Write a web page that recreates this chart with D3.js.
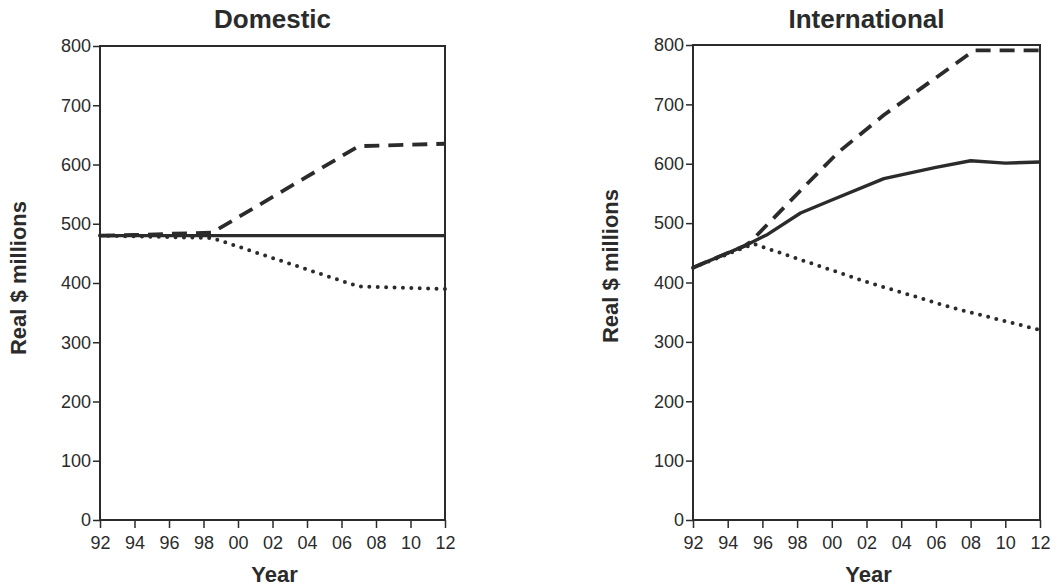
<!DOCTYPE html>
<html>
<head>
<meta charset="utf-8">
<script src="https://cdn.jsdelivr.net/npm/d3@7/dist/d3.min.js"></script>
<style>
  html, body { margin: 0; padding: 0; background: #fff; }
  svg { display: block; }
  text { font-family: "Liberation Sans", Arial, Helvetica, sans-serif; fill: #2b2b2b; }
</style>
</head>
<body>
<svg id="chart" width="1059" height="587"></svg>
<script>
// ---- data ----
const xTickYears = [1992, 1994, 1996, 1998, 2000, 2002, 2004, 2006, 2008, 2010, 2012];
const xTickLabels = ["92", "94", "96", "98", "00", "02", "04", "06", "08", "10", "12"];
const yTicks = [0, 100, 200, 300, 400, 500, 600, 700, 800];

const panelTitles = ["Domestic", "International"];
const yAxisLabel = "Real $ millions";
const xAxisLabel = "Year";

// Domestic
const domSolidYears = [1992, 2012];
const domSolidValues = [480, 480];
const domDashedYears = [1992, 1994, 1996, 1998.5, 2007, 2012];
const domDashedValues = [480, 481, 483, 485, 631, 635];
const domDottedYears = [1992, 1998.5, 2007, 2012];
const domDottedValues = [480, 476, 394, 390];

// International
const intSolidYears = [1992, 1995, 1996.3, 1998.2, 2000, 2003, 2006, 2008, 2010, 2012];
const intSolidValues = [425, 462, 481, 517, 539, 575, 594, 605, 601, 603];
const intDashedYears = [1992, 1995, 1995.3, 1998.2, 2000.4, 2003, 2008.2, 2012];
const intDashedValues = [425, 462, 468, 555, 620, 682, 791, 791];
const intDottedYears = [1992, 1995.5, 2002, 2007, 2012];
const intDottedValues = [425, 465, 401, 357, 320];

// ---- drawing ----
const svg = d3.select("#chart");
const ink = "#2b2b2b";

const zip = (xs, ys) => xs.map((x, i) => ({ x, y: ys[i] }));

const panels = [
  { title: panelTitles[0], left: 100, right: 445, top: 46, bottom: 520, ylabX: 26, ylabY: 278,
    series: [
      { pts: zip(domSolidYears, domSolidValues), style: "solid" },
      { pts: zip(domDashedYears, domDashedValues), style: "dashed" },
      { pts: zip(domDottedYears, domDottedValues), style: "dotted" }
    ] },
  { title: panelTitles[1], left: 693, right: 1040, top: 45, bottom: 520, ylabX: 618, ylabY: 266,
    series: [
      { pts: zip(intSolidYears, intSolidValues), style: "solid" },
      { pts: zip(intDashedYears, intDashedValues), style: "dashed" },
      { pts: zip(intDottedYears, intDottedValues), style: "dotted" }
    ] }
];

panels.forEach(p => {
  const x = d3.scaleLinear().domain([1992, 2012]).range([p.left, p.right]);
  const y = d3.scaleLinear().domain([0, 800]).range([p.bottom, p.top]);
  const g = svg.append("g");

  // frame
  g.append("rect")
    .attr("x", p.left).attr("y", p.top)
    .attr("width", p.right - p.left).attr("height", p.bottom - p.top)
    .attr("fill", "none").attr("stroke", ink).attr("stroke-width", 2);

  // y axis
  const yAx = g.append("g").attr("transform", `translate(${p.left},0)`)
    .call(d3.axisLeft(y).tickValues(yTicks).tickSize(7).tickPadding(2));
  yAx.select(".domain").remove();
  yAx.selectAll("line").attr("stroke", ink).attr("stroke-width", 1.5);
  yAx.selectAll("text").style("font-size", "18px").attr("fill", ink)
    .style("font-family", '"Liberation Sans", Arial, sans-serif');

  // x axis
  const xAx = g.append("g").attr("transform", `translate(0,${p.bottom})`)
    .call(d3.axisBottom(x).tickValues(xTickYears)
      .tickFormat((d, i) => xTickLabels[i]).tickSize(8).tickPadding(8));
  xAx.select(".domain").remove();
  xAx.selectAll("line").attr("stroke", ink).attr("stroke-width", 1.5);
  xAx.selectAll("text").style("font-size", "18px").attr("fill", ink)
    .style("font-family", '"Liberation Sans", Arial, sans-serif');

  // lines
  const line = d3.line().x(d => x(d.x)).y(d => y(d.y));
  p.series.forEach(s => {
    const path = g.append("path").datum(s.pts)
      .attr("d", line).attr("fill", "none").attr("stroke", ink)
      .attr("stroke-linejoin", "round");
    if (s.style === "solid") {
      path.attr("stroke-width", 3.4);
    } else if (s.style === "dashed") {
      path.attr("stroke-width", 3.8).attr("stroke-dasharray", "15 9");
    } else {
      path.attr("stroke-width", 4).attr("stroke-linecap", "round")
        .attr("stroke-dasharray", "0 8.4");
    }
  });

  // title
  g.append("text")
    .attr("x", (p.left + p.right) / 2).attr("y", 28)
    .attr("text-anchor", "middle")
    .style("font-size", "26px").style("font-weight", "bold")
    .text(p.title);

  // x label
  g.append("text")
    .attr("x", (p.left + p.right) / 2 + 2).attr("y", 582)
    .attr("text-anchor", "middle")
    .style("font-size", "22px").style("font-weight", "bold")
    .text(xAxisLabel);

  // y label
  g.append("text")
    .attr("transform", `translate(${p.ylabX},${p.ylabY}) rotate(-90)`)
    .attr("text-anchor", "middle")
    .style("font-size", "22px").style("font-weight", "bold")
    .text(yAxisLabel);
});
</script>
</body>
</html>
